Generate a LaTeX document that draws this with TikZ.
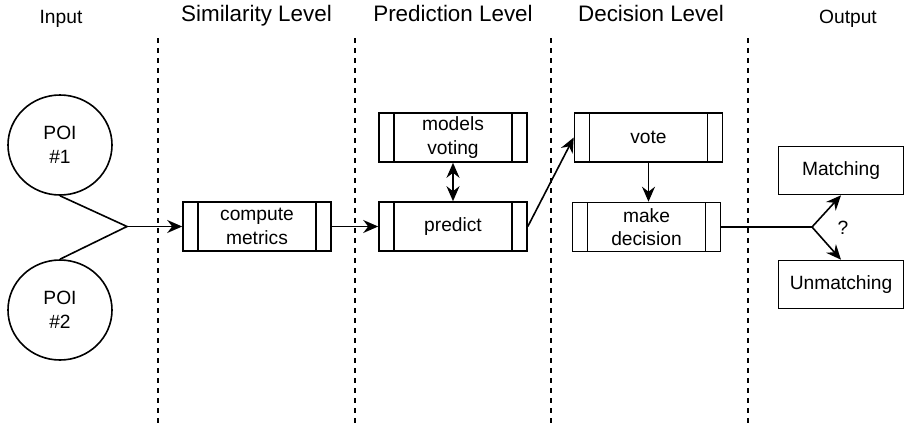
\documentclass[tikz,border=0pt]{standalone}
\usepackage{fontspec}
\setmainfont{Liberation Sans}
\usetikzlibrary{arrows.meta,shapes.geometric}
\newcommand\myBody{\fontsize{19.2}{23.5}\selectfont}
\newcommand\myHead{\fontsize{22.4}{26}\selectfont}
\tikzset{
  proc/.style={draw, line width=1.6pt, minimum width=148pt, minimum height=49pt,
    inner sep=0pt, align=center, font=\myBody,
    path picture={
      \draw[line width=1.6pt] ([xshift=15pt]path picture bounding box.north west) -- ([xshift=15pt]path picture bounding box.south west);
      \draw[line width=1.6pt] ([xshift=-15pt]path picture bounding box.north east) -- ([xshift=-15pt]path picture bounding box.south east);
    }},
  outbox/.style={draw, line width=1.6pt, minimum width=125pt, minimum height=48pt,
    inner sep=0pt, align=center, font=\myBody},
  poi/.style={draw, ellipse, line width=1.6pt, minimum width=104pt, minimum height=100pt,
    inner sep=0pt, align=center, font=\myBody},
  sepline/.style={line width=1.3pt, dash pattern=on 5pt off 5pt},
  ln/.style={line width=1.6pt},
  arr/.style={line width=1.6pt, -{Stealth[length=15pt,width=13pt,inset=5pt]}},
  darr/.style={line width=1.6pt, {Stealth[length=15pt,width=13pt,inset=5pt]}-{Stealth[length=15pt,width=13pt,inset=5pt]}},
  head/.style={font=\myHead, anchor=base, inner sep=0pt},
  smallhead/.style={font=\myBody, anchor=base, inner sep=0pt},
}
\begin{document}
\begin{tikzpicture}[x=1pt,y=-1pt]
\useasboundingbox[fill=white] (0,0) rectangle (907,426);
% headings
\node[smallhead] (hin) at (61,23) {Input};
\node[head] (hsim) at (256.5,21.5) {Similarity Level};
\node[head] (hpre) at (453,21.5) {Prediction Level};
\node[head] (hdec) at (651,21.5) {Decision Level};
\node[smallhead] (hout) at (848,23) {Output};
% separators
\draw[sepline] (158,38) -- (158,426);
\draw[sepline] (355,38) -- (355,426);
\draw[sepline] (551,38) -- (551,426);
\draw[sepline] (748,38) -- (748,426);
% nodes
\node[poi] (p1) at (60,145) {POI\\\#1};
\node[poi] (p2) at (60,310) {POI\\\#2};
\node[proc] (cm) at (257,226.5) {compute\\metrics};
\node[proc] (pr) at (453,226.5) {predict};
\node[proc] (mv) at (453,137.5) {models\\voting};
\node[proc] (vote) at (648.5,137.5) {vote};
\node[proc] (md) at (646.5,227) {make\\decision};
\node[outbox] (mat) at (841,170.5) {Matching};
\node[outbox] (unm) at (841,284.5) {Unmatching};
\node[font=\myBody, inner sep=0pt] (q) at (843,228) {?};
% connectors
\coordinate (j1) at (127,226.5);
\coordinate (j2) at (812,227);
\draw[ln] (p1.south) -- (j1) -- (p2.north);
\draw[arr] (j1) -- (cm.west);
\draw[arr] (cm.east) -- (pr.west);
\draw[darr] (mv.south) -- (pr.north);
\draw[arr] (pr.east) -- (vote.west);
\draw[arr] (vote.south) -- (vote.south |- md.north);
\draw[ln] (md.east) -- (j2);
\draw[arr] (j2) -- (mat.south);
\draw[arr] (j2) -- (unm.north);
\end{tikzpicture}
\end{document}
